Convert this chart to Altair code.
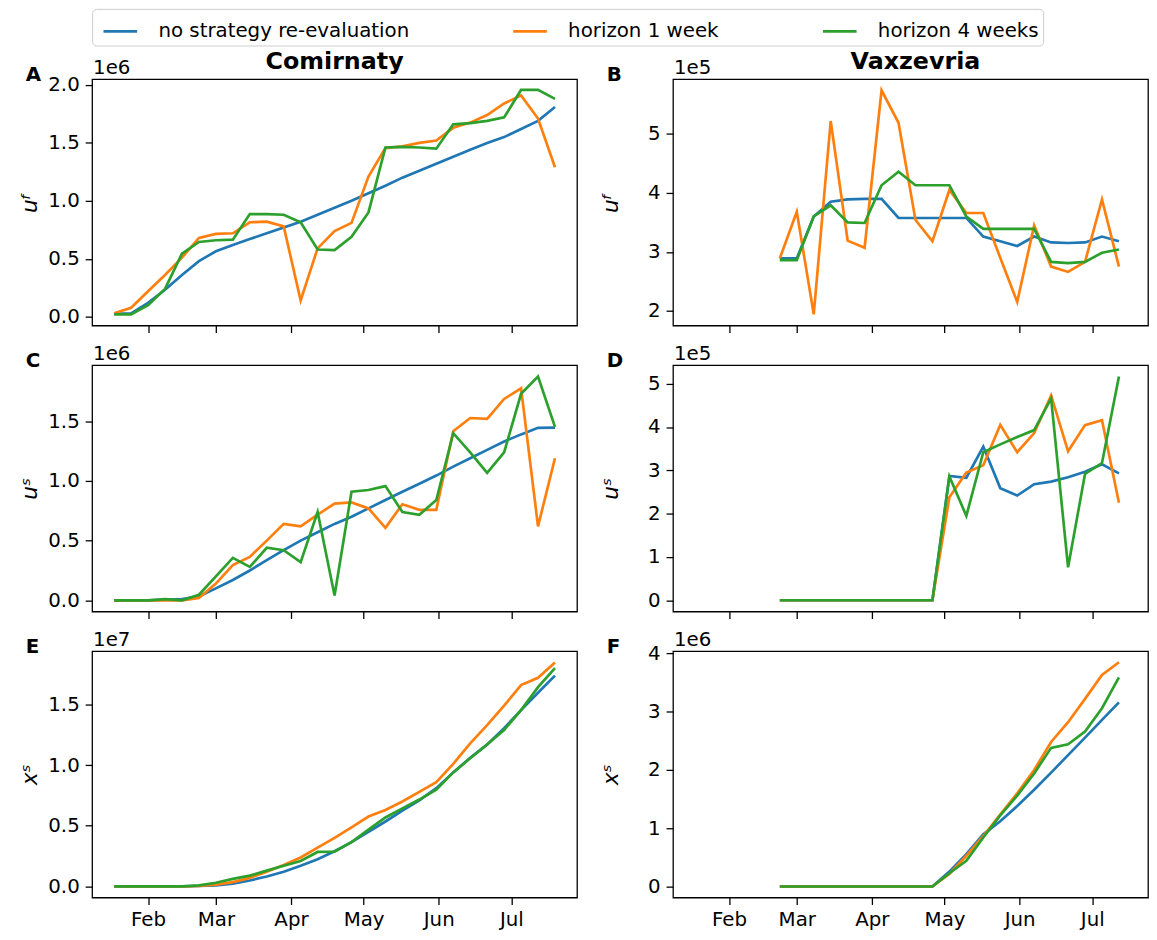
import altair as alt
import pandas as pd

FONT = "DejaVu Sans"
SERIES = ["no strategy re-evaluation", "horizon 1 week", "horizon 4 weeks"]
COLORS = ["#1f77b4", "#ff7f0e", "#2ca02c"]

com_dates = [d.strftime("%Y-%m-%d") for d in pd.date_range("2021-01-18", periods=27, freq="7D")]
vax_dates = [d.strftime("%Y-%m-%d") for d in pd.date_range("2021-02-22", periods=21, freq="7D")]

# Panel A: Comirnaty u^f (x1e6)
a_none = [0.026, 0.03, 0.12, 0.233, 0.36, 0.48, 0.565, 0.62, 0.67, 0.72, 0.77, 0.82, 0.88, 0.94,
          1.0, 1.065, 1.13, 1.2, 1.26, 1.32, 1.38, 1.44, 1.5, 1.55, 1.62, 1.69, 1.81]
a_h1 = [0.03, 0.077, 0.22, 0.36, 0.51, 0.68, 0.715, 0.72, 0.815, 0.82, 0.78, 0.14, 0.59, 0.74,
        0.81, 1.21, 1.455, 1.47, 1.5, 1.52, 1.63, 1.675, 1.74, 1.84, 1.91, 1.71, 1.29]
a_h4 = [0.02, 0.02, 0.10, 0.24, 0.545, 0.645, 0.66, 0.665, 0.886, 0.886, 0.88, 0.815, 0.58, 0.575,
        0.69, 0.90, 1.46, 1.465, 1.46, 1.45, 1.66, 1.67, 1.69, 1.72, 1.957, 1.957, 1.88]

# Panel B: Vaxzevria u^f (x1e5)
b_none = [2.89, 2.89, 3.60, 3.85, 3.89, 3.90, 3.90, 3.575, 3.575, 3.575, 3.575, 3.575, 3.26, 3.18,
          3.10, 3.26, 3.16, 3.15, 3.16, 3.26, 3.18]
b_h1 = [2.89, 3.68, 1.94, 5.22, 3.19, 3.07, 5.74, 5.19, 3.54, 3.18, 4.05, 3.66, 3.66, 2.90,
        2.15, 3.45, 2.75, 2.66, 2.83, 3.89, 2.75]
b_h4 = [2.86, 2.86, 3.60, 3.79, 3.50, 3.49, 4.13, 4.36, 4.13, 4.13, 4.13, 3.60, 3.39, 3.39,
        3.39, 3.39, 2.83, 2.81, 2.83, 2.985, 3.04]

# Panel C: Comirnaty u^s (x1e6)
c_none = [0, 0, 0, 0.005, 0.01, 0.033, 0.10, 0.17, 0.25, 0.336, 0.42, 0.50, 0.57, 0.64,
          0.70, 0.77, 0.84, 0.91, 0.976, 1.045, 1.12, 1.19, 1.26, 1.33, 1.39, 1.445, 1.447]
c_h1 = [0, 0, 0, 0, 0, 0.02, 0.14, 0.295, 0.364, 0.50, 0.64, 0.62, 0.717, 0.81,
        0.82, 0.77, 0.607, 0.805, 0.758, 0.758, 1.417, 1.527, 1.52, 1.687, 1.776, 0.62, 1.19]
c_h4 = [0, 0, 0, 0.01, 0, 0.047, 0.20, 0.356, 0.28, 0.44, 0.42, 0.32, 0.74, 0.04,
        0.91, 0.924, 0.957, 0.74, 0.717, 0.84, 1.40, 1.24, 1.067, 1.24, 1.73, 1.875, 1.453]

# Panel D: Vaxzevria u^s (x1e5)
d_none = [0, 0, 0, 0, 0, 0, 0, 0, 0, 0, 2.87, 2.83, 3.55, 2.59, 2.42, 2.68, 2.74, 2.84, 2.97, 3.14, 2.93]
d_h1 = [0, 0, 0, 0, 0, 0, 0, 0, 0, 0, 2.38, 2.95, 3.12, 4.05, 3.42, 3.86, 4.73, 3.44, 4.045, 4.16, 2.25]
d_h4 = [0, 0, 0, 0, 0, 0, 0, 0, 0, 0, 2.86, 1.95, 3.42, 3.60, 3.77, 3.93, 4.66, 0.76, 2.92, 3.17, 5.17]

# Panel E: Comirnaty x^s (x1e7)
e_none = [0, 0, 0, 0, 0, 0.003, 0.008, 0.022, 0.049, 0.081, 0.12, 0.17, 0.224, 0.29,
          0.365, 0.449, 0.535, 0.624, 0.71, 0.81, 0.94, 1.06, 1.17, 1.305, 1.454, 1.597, 1.738]
e_h1 = [0, 0, 0, 0, 0, 0.003, 0.014, 0.035, 0.07, 0.12, 0.176, 0.238, 0.319, 0.40,
        0.486, 0.576, 0.63, 0.70, 0.78, 0.86, 1.01, 1.18, 1.33, 1.49, 1.66, 1.72, 1.846]
e_h4 = [0, 0, 0, 0, 0, 0.008, 0.03, 0.062, 0.089, 0.13, 0.17, 0.21, 0.284, 0.286,
        0.365, 0.468, 0.568, 0.643, 0.716, 0.797, 0.94, 1.057, 1.17, 1.29, 1.454, 1.643, 1.80]

# Panel F: Vaxzevria x^s (x1e6)
f_none = [0, 0, 0, 0, 0, 0, 0, 0, 0, 0, 0.255, 0.555, 0.895, 1.12, 1.38, 1.66, 1.955, 2.255, 2.555, 2.86, 3.16]
f_h1 = [0, 0, 0, 0, 0, 0, 0, 0, 0, 0, 0.215, 0.527, 0.867, 1.235, 1.60, 2.0, 2.48, 2.82, 3.22, 3.63, 3.85]
f_h4 = [0, 0, 0, 0, 0, 0, 0, 0, 0, 0, 0.227, 0.44, 0.84, 1.22, 1.56, 1.94, 2.38, 2.44, 2.66, 3.06, 3.59]

MONTH_TICKS = [alt.DateTime(year=2021, month=m, date=1, utc=True) for m in range(2, 8)]
X_START = alt.DateTime(year=2021, month=1, date=8, hours=21, minutes=36, utc=True)
X_END_LEFT = alt.DateTime(year=2021, month=7, date=28, hours=2, minutes=24, utc=True)
X_END_RIGHT = alt.DateTime(year=2021, month=7, date=24, hours=0, minutes=0, utc=True)

H = 249
W_LEFT = 490
W_RIGHT = 480


def text_layer(txt, x, y, size, bold=False, align="left"):
    return alt.Chart(pd.DataFrame({"t": [txt]})).mark_text(
        align=align, baseline="alphabetic", fontSize=size,
        fontWeight="bold" if bold else "normal", font=FONT, color="black"
    ).encode(x=alt.value(x), y=alt.value(y), text="t:N")


def panel(dates, vals, ydom, yticks, yfmt, ytitle, letter, expo, width, xend,
          title=None, xlabels=False):
    rows = []
    for s, v in zip(SERIES, vals):
        for d, y in zip(dates, v):
            rows.append({"date": d, "value": y, "series": s})
    df = pd.DataFrame(rows)
    x_enc = alt.X("date:T",
                  scale=alt.Scale(type="utc", domain=[X_START, xend], nice=False),
                  axis=alt.Axis(values=MONTH_TICKS, format="%b", labels=xlabels, title=None))
    y_enc = alt.Y("value:Q",
                  scale=alt.Scale(domain=ydom, nice=False, zero=False),
                  axis=alt.Axis(values=yticks, format=yfmt, title=ytitle))
    c_enc = alt.Color("series:N", title=None,
                      scale=alt.Scale(domain=SERIES, range=COLORS))
    layers = []
    for s in SERIES:
        layers.append(
            alt.Chart(df).transform_filter(alt.datum.series == s)
            .mark_line(strokeWidth=2.7)
            .encode(x=x_enc, y=y_enc, color=c_enc)
        )
    layers.append(text_layer(letter, -67, 2, 20, bold=True))
    layers.append(text_layer(expo, 1, -5, 20))
    if title:
        layers.append(text_layer(title, 245, -10, 24, bold=True, align="center"))
    return alt.layer(*layers).properties(width=width, height=H)


pA = panel(com_dates, [a_none, a_h1, a_h4], [-0.076, 2.05], [0, 0.5, 1.0, 1.5, 2.0], ".1f",
           "uᶠ", "A", "1e6", W_LEFT, X_END_LEFT, title="Comirnaty")
pB = panel(vax_dates, [b_none, b_h1, b_h4], [1.75, 5.93], [2, 3, 4, 5], "d",
           "uᶠ", "B", "1e5", W_RIGHT, X_END_RIGHT, title="Vaxzevria")
pC = panel(com_dates, [c_none, c_h1, c_h4], [-0.094, 1.97], [0, 0.5, 1.0, 1.5], ".1f",
           "uˢ", "C", "1e6", W_LEFT, X_END_LEFT)
pD = panel(vax_dates, [d_none, d_h1, d_h4], [-0.26, 5.43], [0, 1, 2, 3, 4, 5], "d",
           "uˢ", "D", "1e5", W_RIGHT, X_END_RIGHT)
pE = panel(com_dates, [e_none, e_h1, e_h4], [-0.092, 1.94], [0, 0.5, 1.0, 1.5], ".1f",
           "xˢ", "E", "1e7", W_LEFT, X_END_LEFT, xlabels=True)
pF = panel(vax_dates, [f_none, f_h1, f_h4], [-0.19, 4.04], [0, 1, 2, 3, 4], "d",
           "xˢ", "F", "1e6", W_RIGHT, X_END_RIGHT, xlabels=True)

chart = alt.concat(
    pA, pB, pC, pD, pE, pF, columns=2,
    spacing={"row": 40, "column": 97}, bounds="flush", align="each"
).properties(
    padding={"left": 10, "top": -5, "right": 0, "bottom": 4}
).configure_view(
    stroke="black", strokeWidth=1.3
).configure_axis(
    domain=False, grid=False, tickColor="black", tickSize=7, tickWidth=1.3,
    labelFont=FONT, labelFontSize=20, labelColor="black", labelPadding=5,
    titleFont=FONT, titleFontSize=22, titleColor="black", titleFontWeight="normal"
).configure_axisY(
    titleFontStyle="italic", titleX=-56, titleY=H / 2, titleAngle=270,
    titleBaseline="alphabetic", titleAlign="center", labelPadding=6
).configure_legend(
    orient="none", legendX=0, legendY=-71, direction="horizontal", columns=3,
    fillColor="white", strokeColor="#cccccc", cornerRadius=4, padding=4,
    symbolType="stroke", symbolSize=1156, symbolStrokeWidth=2.6, symbolOffset=6,
    labelOffset=20, labelFont=FONT, labelFontSize=20, labelColor="black",
    labelLimit=500, columnPadding=97
)

chart.save("out.html", embed_options={"renderer": "svg", "actions": False})
